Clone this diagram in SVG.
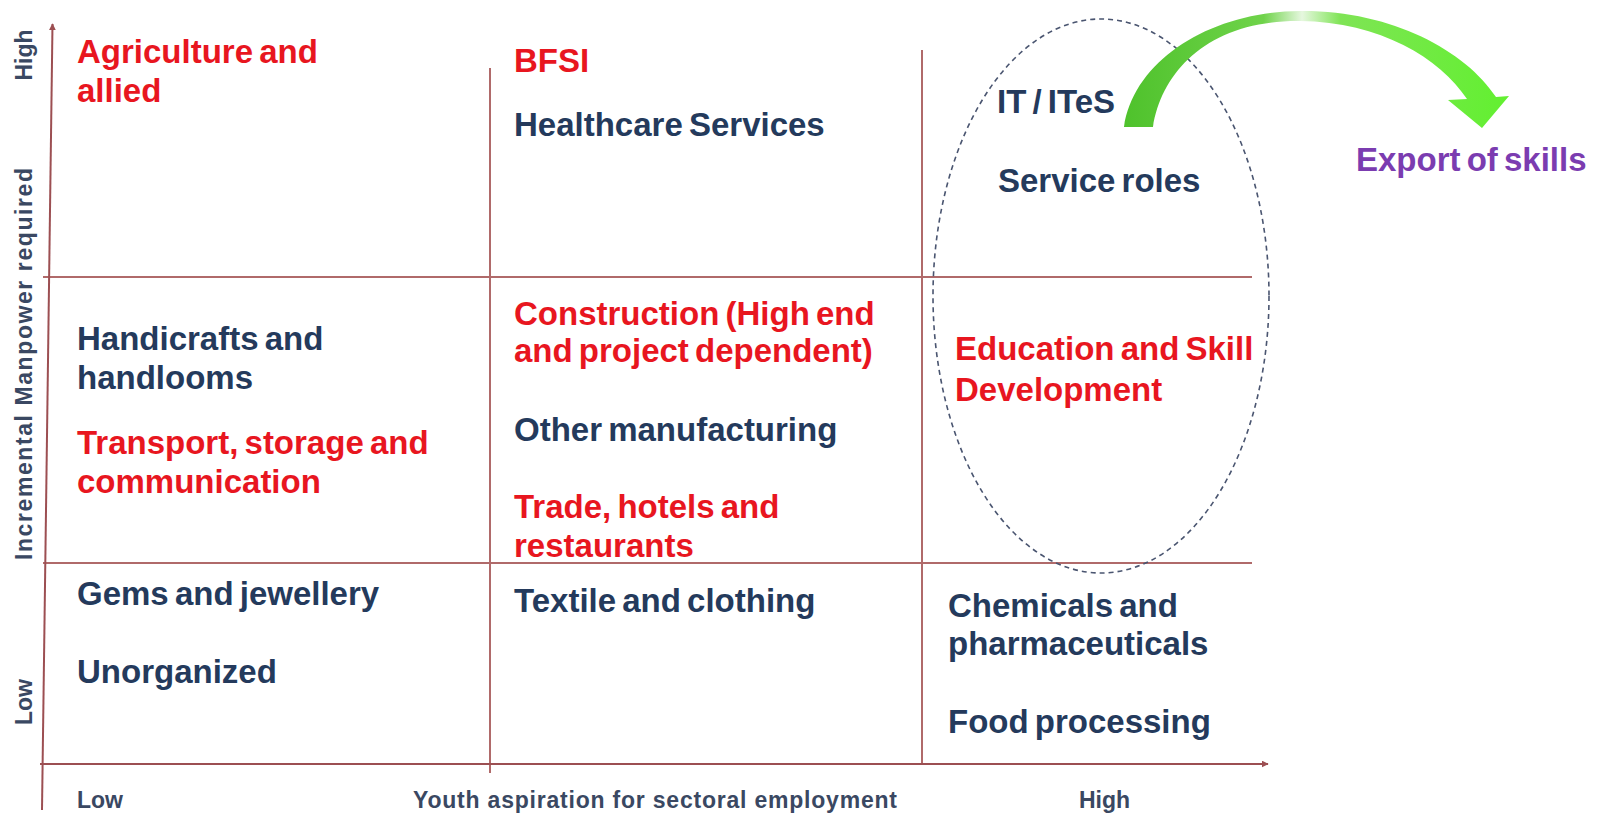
<svg xmlns="http://www.w3.org/2000/svg" width="1599" height="815" viewBox="0 0 1599 815">
<style>
  .t{font-family:"Liberation Sans",Arial,sans-serif;font-weight:bold;font-size:33px;word-spacing:-3px}
  .red{fill:#e8161f}
  .navy{fill:#243a5c}
  .ax{font-family:"Liberation Sans",Arial,sans-serif;font-weight:bold;font-size:23px;fill:#3a4862}
  .grid{stroke:#b06a6a;stroke-width:2;fill:none}
  .axis{stroke:#9c4f52;stroke-width:2;fill:none}
</style>
<defs>
  <marker id="ah" viewBox="0 0 10 10" refX="9" refY="5" markerWidth="7" markerHeight="7" markerUnits="userSpaceOnUse" orient="auto">
    <path d="M0,0 L10,5 L0,10 Z" fill="#9c4f52"/>
  </marker>
  <linearGradient id="gr" x1="1125" y1="0" x2="1510" y2="0" gradientUnits="userSpaceOnUse">
    <stop offset="0" stop-color="#4fc22c"/>
    <stop offset="0.36" stop-color="#6fd34a"/>
    <stop offset="0.46" stop-color="#e6f7df"/>
    <stop offset="0.56" stop-color="#7fe455"/>
    <stop offset="1" stop-color="#62f030"/>
  </linearGradient>
</defs>
<rect width="1599" height="815" fill="#ffffff"/>

<g id="grid">
  <line class="grid" x1="43" y1="277" x2="1252" y2="277"/>
  <line class="grid" x1="43" y1="563" x2="1252" y2="563"/>
  <line class="grid" x1="490" y1="68" x2="490" y2="773"/>
  <line class="grid" x1="922" y1="50" x2="922" y2="764"/>
  <line class="axis" x1="42" y1="810" x2="52.5" y2="24" marker-end="url(#ah)"/>
  <line class="axis" x1="40" y1="764" x2="1268" y2="764" marker-end="url(#ah)"/>
</g>

<g id="cluster">
  <ellipse cx="1101" cy="296" rx="168" ry="277" fill="none" stroke="#4a5570" stroke-width="1.6" stroke-dasharray="5 4"/>
</g>

<g id="connectors">
  <path d="M1124,127 C1134,60 1210,12 1300,11 C1390,10 1465,50 1496,97 L1509,96 L1482,128 L1448,100 L1467,99 C1440,58 1380,22 1300,21 C1210,20 1162,70 1153,127 Z" fill="url(#gr)"/>
</g>

<g id="axis-labels">
  <text class="ax" transform="translate(32,55) rotate(-90)" text-anchor="middle">High</text>
  <text class="ax" transform="translate(32,364) rotate(-90)" text-anchor="middle" textLength="392" lengthAdjust="spacing">Incremental Manpower required</text>
  <text class="ax" transform="translate(32,702) rotate(-90)" text-anchor="middle">Low</text>
  <text class="ax" x="77" y="808">Low</text>
  <text class="ax" x="413" y="808" textLength="484" lengthAdjust="spacing">Youth aspiration for sectoral employment</text>
  <text class="ax" x="1079" y="808">High</text>
</g>

<g id="n-agriculture"><text class="t red" x="77" y="63">Agriculture and<tspan x="77" y="102">allied</tspan></text></g>
<g id="n-handicrafts"><text class="t navy" x="77" y="350">Handicrafts and<tspan x="77" y="389">handlooms</tspan></text></g>
<g id="n-transport"><text class="t red" x="77" y="454">Transport, storage and<tspan x="77" y="493">communication</tspan></text></g>
<g id="n-gems"><text class="t navy" x="77" y="605">Gems and jewellery</text></g>
<g id="n-unorganized"><text class="t navy" x="77" y="683">Unorganized</text></g>

<g id="n-bfsi"><text class="t red" x="514" y="72">BFSI</text></g>
<g id="n-healthcare"><text class="t navy" x="514" y="136">Healthcare Services</text></g>
<g id="n-construction"><text class="t red" x="514" y="325">Construction (High end<tspan x="514" y="362">and project dependent)</tspan></text></g>
<g id="n-othermfg"><text class="t navy" x="514" y="441">Other manufacturing</text></g>
<g id="n-trade"><text class="t red" x="514" y="518">Trade, hotels and<tspan x="514" y="557">restaurants</tspan></text></g>
<g id="n-textile"><text class="t navy" x="514" y="612">Textile and clothing</text></g>

<g id="n-it"><text class="t navy" x="997" y="113">IT / ITeS</text></g>
<g id="n-service"><text class="t navy" x="998" y="192">Service roles</text></g>
<g id="n-export"><text class="t" x="1356" y="171" fill="#7b3cb0">Export of skills</text></g>
<g id="n-education"><text class="t red" x="955" y="360">Education and Skill<tspan x="955" y="401">Development</tspan></text></g>
<g id="n-chemicals"><text class="t navy" x="948" y="617">Chemicals and<tspan x="948" y="655">pharmaceuticals</tspan></text></g>
<g id="n-food"><text class="t navy" x="948" y="733">Food processing</text></g>
</svg>
